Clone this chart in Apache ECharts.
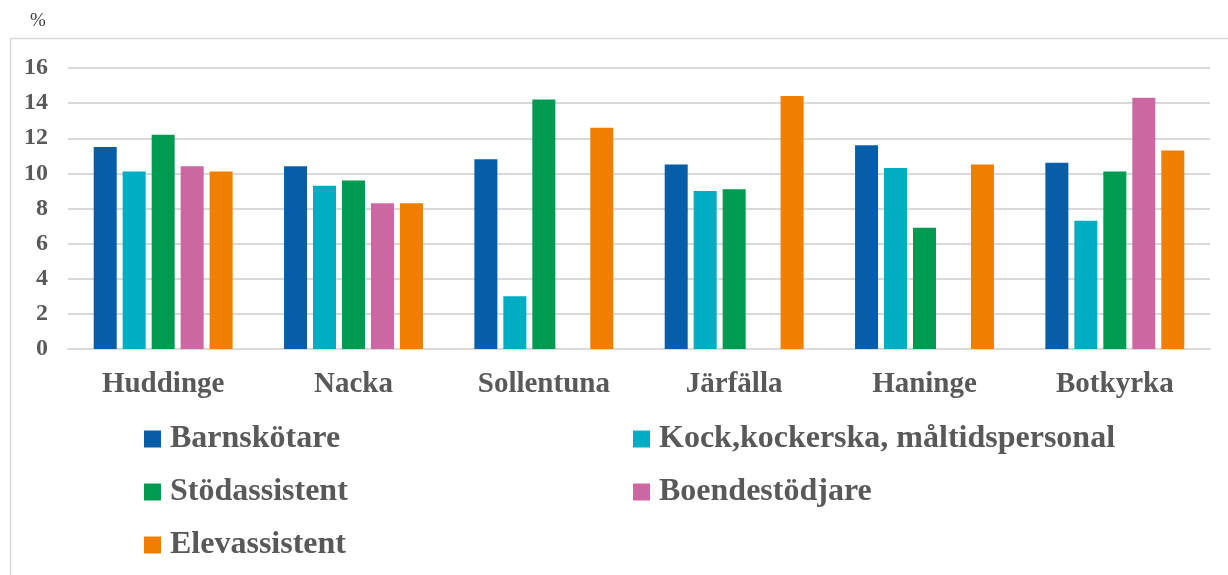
<!DOCTYPE html>
<html>
<head>
<meta charset="utf-8">
<script src="https://cdn.jsdelivr.net/npm/echarts@6/dist/echarts.min.js"></script>
<style>
  html, body { margin: 0; padding: 0; background: #fff; }
  #chart { width: 1228px; height: 575px; }
</style>
</head>
<body>
<div id="chart"></div>
<script>
// Municipalities along the x axis
const municipalities = ['Huddinge', 'Nacka', 'Sollentuna', 'Järfälla', 'Haninge', 'Botkyrka'];

// Share in percent per occupation (null = no value reported)
const barnskotare = [11.5, 10.4, 10.8, 10.5, 11.6, 10.6];
const kock = [10.1, 9.3, 3.0, 9.0, 10.3, 7.3];
const stodassistent = [12.2, 9.6, 14.2, 9.1, 6.9, 10.1];
const boendestodjare = [10.4, 8.3, null, null, null, 14.3];
const elevassistent = [10.1, 8.3, 12.6, 14.4, 10.5, 11.3];

const seriesNames = ['Barnskötare', 'Kock,kockerska, måltidspersonal', 'Stödassistent', 'Boendestödjare', 'Elevassistent'];
const seriesValues = [barnskotare, kock, stodassistent, boendestodjare, elevassistent];
const seriesColors = ['#075EA8', '#00ADC3', '#009A50', '#CD67A3', '#F07E00'];

const FONT = '"Liberation Serif", "Times New Roman", serif';
const TEXT = '#595959';

const chart = echarts.init(document.getElementById('chart'), null, { renderer: 'canvas' });

const legendText = {
  fontFamily: FONT, fontWeight: 'bold', fontSize: 32, color: TEXT,
  lineHeight: 32, padding: [0, 0, 0, 4]
};

chart.setOption({
  animation: false,
  backgroundColor: '#fff',
  graphic: [
    {
      type: 'rect',
      shape: { x: 10.5, y: 38.5, width: 1240, height: 600 },
      style: { fill: 'none', stroke: '#d9d9d9', lineWidth: 1.5 },
      silent: true
    },
    {
      type: 'text',
      left: 30, top: 12,
      style: { text: '%', fontFamily: FONT, fontSize: 19, fill: '#404040' }
    }
  ],
  grid: { left: 68, right: 18, top: 68, bottom: 226, containLabel: false },
  legend: [
    {
      orient: 'vertical',
      left: 144, top: 423, padding: 0,
      itemWidth: 17, itemHeight: 17, itemGap: 21,
      icon: 'rect',
      data: [seriesNames[0], seriesNames[2], seriesNames[4]],
      textStyle: legendText
    },
    {
      orient: 'vertical',
      left: 633, top: 423, padding: 0,
      itemWidth: 17, itemHeight: 17, itemGap: 21,
      icon: 'rect',
      data: [seriesNames[1], seriesNames[3]],
      textStyle: legendText
    }
  ],
  xAxis: {
    type: 'category',
    data: municipalities,
    axisTick: { show: false },
    axisLine: { show: true, lineStyle: { color: '#d9d9d9', width: 2 } },
    axisLabel: { fontFamily: FONT, fontWeight: 'bold', fontSize: 29, color: TEXT, margin: 21 }
  },
  yAxis: {
    type: 'value',
    min: 0, max: 16, interval: 2,
    axisLine: { show: false },
    axisTick: { show: false },
    splitLine: { lineStyle: { color: '#d9d9d9', width: 2 } },
    axisLabel: {
      fontFamily: FONT, fontWeight: 'bold', fontSize: 24, color: TEXT,
      margin: 20, padding: [8, 0, 0, 0]
    }
  },
  series: seriesNames.map((name, i) => ({
    name,
    type: 'bar',
    data: seriesValues[i],
    barWidth: 23,
    barGap: '26%',
    itemStyle: { color: seriesColors[i] }
  }))
});
</script>
</body>
</html>
